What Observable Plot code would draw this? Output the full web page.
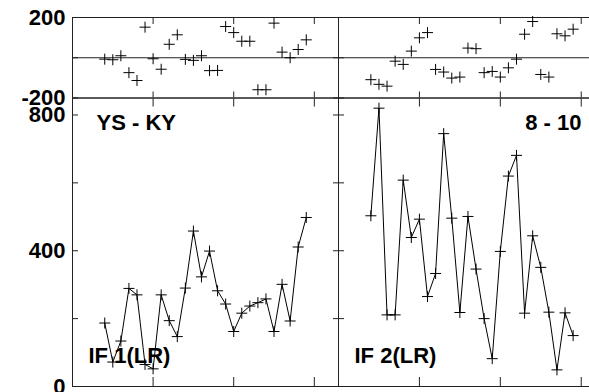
<!DOCTYPE html>
<html>
<head>
<meta charset="utf-8">
<script src="https://cdn.jsdelivr.net/npm/d3@7"></script>
<script src="https://cdn.jsdelivr.net/npm/@observablehq/plot@0.6"></script>
<style>
  html, body { margin: 0; padding: 0; background: white; }
  #wrap { position: relative; width: 589px; height: 392px; overflow: hidden; background: white; }
  #wrap svg { position: absolute; left: 0; top: 0; }
</style>
</head>
<body>
<div id="wrap"></div>
<script>
// ---- data ----
const xs = [4,5,6,7,8,9,10,11,12,13,14,15,16,17,18,19,20,21,22,23,24,25,26,27,28,29];
const leftValues = [187,72,134,289,270,65,52,270,194,147,290,458,323,399,282,243,162,216,237,247,258,162,301,193,411,498];
const leftResiduals = [-7,-10,10,-74,-113,152,-5,-57,67,114,-8,-13,10,-64,-63,155,125,82,82,-159,-159,172,28,0,41,89];
const rightValues = [503,820,211,211,608,439,493,265,333,745,496,218,501,346,200,82,398,620,681,216,444,351,219,49,217,150];
const rightResiduals = [-109,-132,-141,-17,-33,33,99,125,-58,-71,-101,-96,48,45,-74,-68,-96,-50,-7,117,180,-83,-96,119,109,142];
const xTicks = [10, 20, 30];
const mainTicks = [0, 200, 400, 600, 800];
const mainLabels = [0, 400, 800];
const residTicks = [-200, 0, 200];
const residLabels = [-200, 200];
const leftTitle = "YS - KY";
const rightTitle = "8 - 10";
const leftLabel = "IF 1(LR)";
const rightLabel = "IF 2(LR)";

const crossSymbol = {
  draw(ctx, size) {
    const r = Math.sqrt(size / Math.PI);
    ctx.moveTo(-r, 0); ctx.lineTo(r, 0);
    ctx.moveTo(0, -r); ctx.lineTo(0, r);
  }
};

const FONT = "font-family: 'Liberation Sans', Arial, sans-serif; font-size: 22px; font-weight: bold;";
const STYLE = "background: transparent; max-width: none; overflow: visible; " + FONT;

const H = 392;
const topY0 = 17, splitY = 97.5, botY = 386;
const noText = () => "";
const plainFormat = d => String(d);

function toRows(values) { return xs.map((x, i) => ({x, y: values[i]})); }

function tickAxes(xt, yt, xLen, yLen, bottomLen) {
  return [
    Plot.axisX(xt, {anchor: "bottom", tickSize: -(bottomLen ?? xLen), tickFormat: noText, label: null, stroke: "#222"}),
    Plot.axisX(xt, {anchor: "top", tickSize: -xLen, tickFormat: noText, label: null, stroke: "#222"}),
    Plot.axisY(yt, {anchor: "left", tickSize: -yLen, tickFormat: noText, label: null, stroke: "#222"}),
    Plot.axisY(yt, {anchor: "right", tickSize: -yLen, tickFormat: noText, label: null, stroke: "#222"})
  ];
}

function residPlot(values, side) {
  const left = side === "left";
  return Plot.plot({
    width: left ? 589 : 605,
    height: H,
    marginLeft: left ? 72 : 338,
    marginRight: left ? 251 : 0,
    marginTop: topY0,
    marginBottom: H - splitY,
    style: STYLE,
    x: {domain: [0, 33], label: null},
    y: {domain: [-200, 200], label: null},
    marks: [
      Plot.frame({stroke: "#222"}),
      Plot.ruleY([0], {stroke: "#222"}),
      ...tickAxes(xTicks, residTicks, 6, 6),
      left ? Plot.axisY(residLabels, {anchor: "left", tickSize: 0, tickPadding: 7, label: null, tickFormat: plainFormat, fill: "black", fontSize: 22, fontWeight: "bold"}) : null,
      Plot.dot(toRows(values), {x: "x", y: "y", symbol: crossSymbol, r: 5.5, fill: "none", stroke: "black", strokeWidth: 1})
    ]
  });
}

function mainPlot(values, side, title, label) {
  const left = side === "left";
  return Plot.plot({
    width: left ? 589 : 605,
    height: H,
    marginLeft: left ? 72 : 338,
    marginRight: left ? 251 : 0,
    marginTop: splitY,
    marginBottom: H - botY,
    style: STYLE,
    x: {domain: [0, 33], label: null},
    y: {domain: [0, 850], label: null},
    marks: [
      Plot.frame({stroke: "#222"}),
      ...tickAxes(xTicks, mainTicks, 8, 6, 9),
      left ? Plot.axisY(mainLabels, {anchor: "left", tickSize: 0, tickPadding: 7, label: null, tickFormat: plainFormat, fill: "black", fontSize: 22, fontWeight: "bold"}) : null,
      Plot.line(toRows(values), {x: "x", y: "y", stroke: "black", strokeWidth: 1}),
      Plot.dot(toRows(values), {x: "x", y: "y", symbol: crossSymbol, r: 5.5, fill: "none", stroke: "black", strokeWidth: 1}),
      Plot.text([title], {
        frameAnchor: left ? "top-left" : "top-right",
        textAnchor: left ? "start" : "end",
        lineAnchor: "top", dx: left ? 24 : -24, dy: 16.5,
        fontSize: 22, fontWeight: "bold", fill: "black"
      }),
      Plot.text([label], {
        frameAnchor: "bottom-left", textAnchor: "start", lineAnchor: "bottom",
        dx: 16, dy: -24, fontSize: 22, fontWeight: "bold", fill: "black"
      })
    ]
  });
}

const wrap = document.getElementById("wrap");
wrap.appendChild(mainPlot(leftValues, "left", leftTitle, leftLabel));
wrap.appendChild(mainPlot(rightValues, "right", rightTitle, rightLabel));
wrap.appendChild(residPlot(leftResiduals, "left"));
wrap.appendChild(residPlot(rightResiduals, "right"));
</script>
</body>
</html>
